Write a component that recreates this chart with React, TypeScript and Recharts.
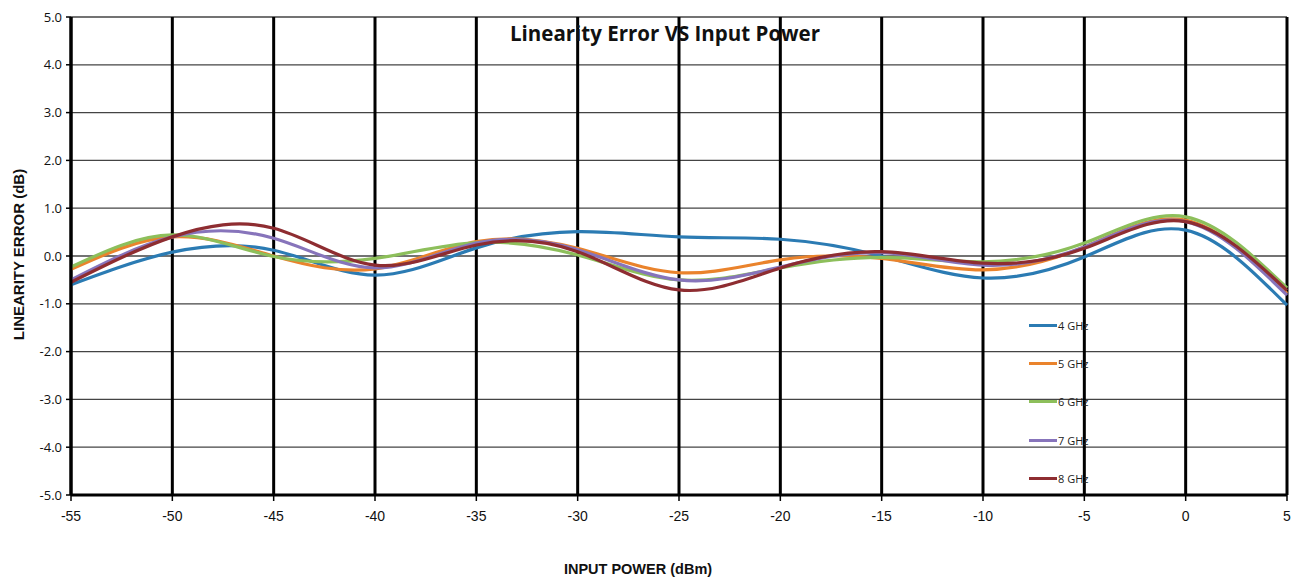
import React from 'react';
import {
  LineChart,
  Line,
  XAxis,
  YAxis,
  CartesianGrid,
} from 'recharts';

// input power (dBm)
const inputPower = [-55, -50, -45, -40, -35, -30, -25, -20, -15, -10, -5, 0, 5];

// linearity error (dB)
const ghz4 = [-0.6, 0.08, 0.12, -0.4, 0.17, 0.51, 0.4, 0.35, 0.0, -0.46, -0.02, 0.54, -1.03];
const ghz5 = [-0.28, 0.4, 0.0, -0.27, 0.3, 0.16, -0.35, -0.08, -0.05, -0.29, 0.19, 0.75, -0.78];
const ghz6 = [-0.23, 0.44, -0.01, -0.05, 0.28, 0.02, -0.5, -0.25, -0.03, -0.12, 0.27, 0.82, -0.67];
const ghz7 = [-0.5, 0.4, 0.37, -0.25, 0.27, 0.13, -0.5, -0.23, 0.07, -0.19, 0.19, 0.72, -0.82];
const ghz8 = [-0.55, 0.4, 0.58, -0.19, 0.23, 0.09, -0.71, -0.25, 0.09, -0.15, 0.16, 0.72, -0.72];

const xTicks = [-55, -50, -45, -40, -35, -30, -25, -20, -15, -10, -5, 0, 5];
const yTicks = [-5, -4, -3, -2, -1, 0, 1, 2, 3, 4, 5];

const series = [
  { key: 'g4', name: '4 GHz', color: '#2b7bb3', values: ghz4 },
  { key: 'g5', name: '5 GHz', color: '#ea832c', values: ghz5 },
  { key: 'g6', name: '6 GHz', color: '#8dbf5b', values: ghz6 },
  { key: 'g7', name: '7 GHz', color: '#8774bb', values: ghz7 },
  { key: 'g8', name: '8 GHz', color: '#8e2d31', values: ghz8 },
];

const chartData = inputPower.map((p, i) => {
  const row: Record<string, number> = { p };
  series.forEach((s) => {
    row[s.key] = s.values[i];
  });
  return row;
});

const sans = '"Open Sans", "Liberation Sans", sans-serif';
const narrow = '"Liberation Sans Narrow", "Liberation Sans", sans-serif';

function LegendBox() {
  return (
    <div
      style={{
        position: 'absolute',
        left: 1029,
        top: 306,
        display: 'flex',
        flexDirection: 'column',
        width: 120,
      }}
    >
      {series.map((s) => (
        <div
          key={s.key}
          style={{ display: 'flex', alignItems: 'center', height: 38.3, whiteSpace: 'nowrap' }}
        >
          <div style={{ width: 28, height: 3, background: s.color, flex: 'none' }} />
          <span style={{ fontFamily: sans, fontSize: 11, color: '#222', marginLeft: 1 }}>
            {s.name}
          </span>
        </div>
      ))}
    </div>
  );
}

export default function App() {
  return (
    <div
      style={{
        position: 'absolute',
        left: 0,
        top: 0,
        width: 1294,
        height: 581,
        background: '#fff',
      }}
    >
      <LineChart
        width={1294}
        height={581}
        data={chartData}
        margin={{ top: 17, right: 7, bottom: 46, left: 0 }}
      >
        <CartesianGrid horizontal vertical={false} stroke="#444" strokeWidth={1.3} />
        <CartesianGrid horizontal={false} vertical stroke="#000" strokeWidth={3} />
        <XAxis
          dataKey="p"
          type="number"
          domain={[-55, 5]}
          ticks={xTicks}
          interval={0}
          height={40}
          axisLine={{ stroke: '#000', strokeWidth: 3 }}
          tickLine={{ stroke: '#000', strokeWidth: 1.5 }}
          tickSize={6}
          tick={{ fontFamily: narrow, fontSize: 14, fill: '#111' }}
          tickMargin={10}
        />
        <YAxis
          type="number"
          domain={[-5, 5]}
          ticks={yTicks}
          interval={0}
          width={71}
          tickFormatter={(v: number) => v.toFixed(1)}
          axisLine={{ stroke: '#000', strokeWidth: 3 }}
          tickLine={{ stroke: '#000', strokeWidth: 1.5 }}
          tickSize={5}
          tick={{ fontFamily: sans, fontSize: 13, fill: '#111' }}
          tickMargin={4}
        />
        {series.map((s) => (
          <Line
            key={s.key}
            type="natural"
            dataKey={s.key}
            name={s.name}
            stroke={s.color}
            strokeWidth={3.2}
            dot={false}
            activeDot={false}
            isAnimationActive={false}
          />
        ))}
      </LineChart>

      <LegendBox />

      <div
        style={{
          position: 'absolute',
          left: 465,
          top: 19,
          width: 400,
          textAlign: 'center',
          fontFamily: sans,
          fontWeight: 700,
          fontSize: 20.5,
          color: '#111',
        }}
      >
        Linearity Error VS Input Power
      </div>

      <div
        style={{
          position: 'absolute',
          left: 18 - 100,
          top: 256 - 10,
          width: 200,
          textAlign: 'center',
          transform: 'rotate(-90deg)',
          fontFamily: narrow,
          fontWeight: 700,
          fontSize: 15,
          color: '#111',
        }}
      >
        LINEARITY ERROR (dB)
      </div>

      <div
        style={{
          position: 'absolute',
          left: 538,
          top: 561,
          width: 200,
          textAlign: 'center',
          fontFamily: narrow,
          fontWeight: 700,
          fontSize: 14.5,
          color: '#111',
        }}
      >
        INPUT POWER (dBm)
      </div>
    </div>
  );
}
